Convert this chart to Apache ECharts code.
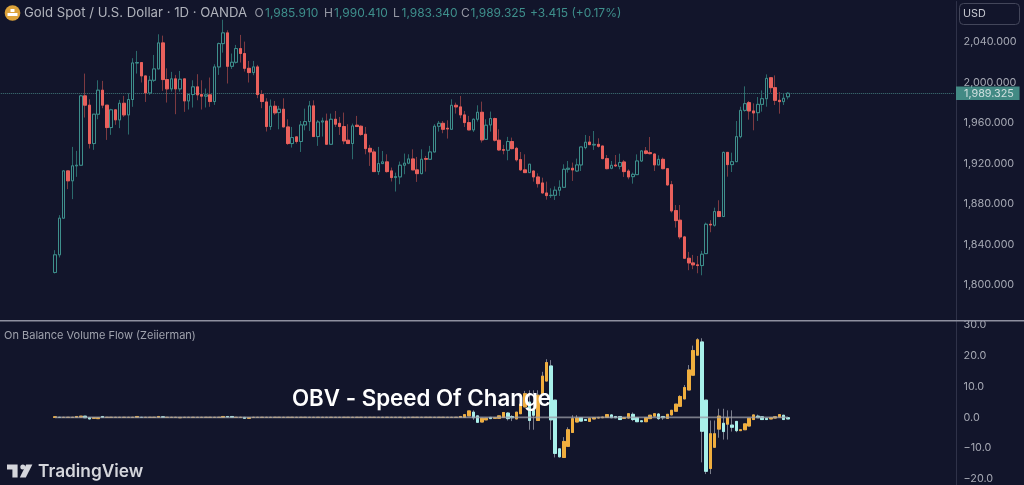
<!DOCTYPE html>
<html><head><meta charset="utf-8">
<style>html,body{margin:0;padding:0;background:#12152b;overflow:hidden}#c{width:1024px;height:485px}</style>
<script src="https://cdn.jsdelivr.net/npm/echarts@6/dist/echarts.min.js"></script>
</head><body><div id="c"></div>
<script>
const opens=[1812.4,1829.8,1866,1912.7,1902.9,1917.7,1918.3,1986.8,1977.6,1939.7,
1968.7,1992.4,1977.6,1955.5,1973,1963.1,1979.5,1968,1983.2,2019.3,
2019.7,2006.5,1989.7,2002.2,2013.4,2039.1,2002.9,1993.7,2003.6,1993.7,
2003.6,1981.8,1988.1,1995.7,1988.1,1986.5,1987.8,1981.2,2015.4,2038.4,
2049,2016,2020,2033.5,2028.6,2014,2009.8,2015.4,1988.1,1980.8,
1956.5,1976.6,1970.3,1973.6,1956.1,1939.7,1946.3,1941.7,1958.1,1961.4,
1976.9,1946.6,1961,1962,1939,1963.7,1959.7,1956.5,1943,1939.7,
1957.8,1956.8,1948.9,1935,1931.4,1912,1919.9,1921.6,1912.7,1906.1,
1906.8,1918.3,1920.3,1924.5,1913.7,1910,1924.9,1924.2,1931.4,1956.8,
1959.7,1954.8,1953.8,1977.5,1975.9,1968,1960.4,1953.2,1963.7,1970.6,
1943.9,1958.1,1964.4,1943,1933.7,1933.1,1941.7,1935,1923.9,1913.7,
1911,1912.6,1906.7,1900.8,1890.9,1888.3,1888.6,1893.6,1896.5,1914.3,
1915.3,1912.6,1918.6,1935.7,1941.2,1938.3,1938.9,1937.3,1924.8,1915.3,
1918.5,1917.2,1921.5,1912.6,1907,1909,1922.5,1932.4,1930.7,1929.4,
1918.6,1924.1,1914.9,1899.1,1873.5,1864,1847.5,1826.4,1821.8,1819.9,
1819.2,1831,1860,1859,1872.5,1867.6,1931,1918.9,1921.8,1946.5,
1972.5,1980.1,1971.9,1970.2,1978.4,1984,2004.7,1994.9,1982.4,1981.1,
1985.91];
const highs=[1834.4,1869,1913.4,1913,1936.4,1932.5,1987.8,2008.8,1983.5,1968.7,
2002.2,2001.6,1977.6,1974,1973,1982.8,1986.8,1989.4,2024,2031.2,
2019.7,2006.5,2006.5,2027.2,2047.6,2046.3,2014,2010.5,2007.5,2011.4,
2003.6,1989,2002.2,2008.2,2002.2,1994,2004.9,2018,2039.4,2062,
2051.6,2028.6,2037.1,2047,2040.4,2021.3,2021.3,2017.4,1992.4,1984.5,
1983.2,1981.8,1976.9,1984.4,1963.7,1956.1,1946.3,1962,1974.2,1981.8,
1982.4,1963,1965.3,1969.3,1969.3,1971.9,1966,1970.3,1958.8,1959.4,
1967,1957.8,1956.1,1938.4,1934,1936.4,1932.4,1929.1,1916,1911,
1921.9,1929.8,1929.1,1934,1926.5,1934,1927.5,1937.4,1958.8,1962,
1962,1962.7,1983.4,1980.1,1986.7,1971.9,1967,1964.4,1977.5,1981.1,
1963.7,1971.3,1965.3,1953.8,1938.4,1946.3,1945.6,1936.4,1931.4,1929.1,
1919.3,1913.3,1910.3,1906,1902.1,1895.5,1897.5,1903.4,1919.2,1922.5,
1920.9,1924.8,1936.3,1948.2,1947.2,1952.1,1944.9,1937.3,1928.4,1922.5,
1928.4,1929.7,1923.5,1914.3,1911,1929,1933,1936.3,1946.2,1929.7,
1928.1,1925.8,1915.3,1902.8,1879,1879,1848.5,1832.7,1829.7,1828.7,
1833.7,1861.6,1864,1876.4,1883.7,1931.7,1931,1930.7,1962,1976.1,
1996.2,1981.7,1979.4,1985.7,1992.2,2008,2004.7,2007,1990.6,1989.6,
1990.41];
const lows=[1811.4,1827.2,1866,1894.7,1884.8,1906.8,1917.7,1965.4,1934.8,1933.5,
1963.7,1974.6,1943.3,1948.3,1958.2,1954.9,1966,1948.6,1976,2008.8,
2000,1980.8,1987.8,2000.6,2013.4,1991.7,1980.2,1991,1968.7,1991,
1971,1973.3,1975.3,1982.5,1973.3,1975.3,1976,1977.9,2007.5,2029.5,
1999,2013.4,2018.7,2019.7,2010.8,2000,2007.2,1984.5,1974.6,1951.6,
1953.2,1968,1953.8,1956.1,1938.4,1935.7,1939.7,1931.4,1952.8,1952.2,
1946.6,1937.4,1946.6,1939,1938.4,1956.1,1948.2,1939,1939.7,1924.2,
1956.1,1947.3,1929.1,1917.6,1912,1908.8,1919.9,1911,1902.2,1892.3,
1899.5,1909.4,1919.3,1913.4,1901.8,1909.4,1912,1924.2,1931.4,1951.5,
1949.9,1944.6,1953.8,1969.3,1964.7,1956.1,1952.8,1951.2,1961.4,1940.7,
1943.9,1951.5,1941.7,1932.4,1929.1,1923.2,1934,1921.9,1912.7,1911,
1911,1902.1,1896.2,1890.3,1884.3,1886,1884,1888,1896.2,1911,
1902.8,1911.6,1912.6,1934,1938.6,1933.4,1935.7,1924.2,1914.3,1914.3,
1916.6,1914.3,1906.7,1904.4,1900.1,1908.7,1921.5,1929,1929,1912.6,
1918.6,1914.3,1898.2,1871.5,1856.7,1845.2,1826.4,1814.6,1815.6,1811.6,
1809.6,1831,1852.1,1857.7,1867.6,1867.6,1907,1911.6,1921.8,1944.9,
1971.2,1963.3,1952.8,1962,1971.2,1976.1,1990,1977.8,1969.2,1977.8,
1983.34];
const closes=[1829.8,1866,1912.7,1902.9,1917.7,1918.3,1986.8,1977.6,1939.7,1968.7,
1992.4,1977.6,1955.5,1973,1963.1,1979.5,1968,1983.2,2019.3,2019.7,
2006.5,1989.7,2002.2,2013.4,2039.1,2002.9,1993.7,2003.6,1993.7,2003.2,
1981.8,1988.1,1995.7,1987.8,1986.5,1987.8,1981.2,2015.4,2038.4,2049,
2016,2020,2033.5,2028.6,2014,2009.8,2015.4,1988.1,1981.2,1956.5,
1976.6,1970,1973.6,1956.1,1939.7,1945.6,1941.7,1958.1,1961.4,1976.9,
1946.6,1961,1962,1939,1963.7,1958.8,1956.5,1942.3,1939.7,1957.1,
1956.5,1948.6,1934.7,1931.4,1912,1919.9,1921.6,1912,1906.1,1907.1,
1918.3,1920.3,1924.5,1913.7,1910,1924.2,1924.2,1931.4,1956.8,1959.7,
1953.8,1954.1,1977.5,1975.9,1968,1960.4,1953.2,1963.7,1970.6,1943.3,
1957.8,1964.4,1943,1933.4,1933.1,1941.7,1934.7,1923.6,1913.7,1911,
1919.3,1906.7,1900.1,1890.9,1888.3,1888.6,1893.6,1896.5,1914.3,1915.3,
1913.6,1918.6,1936.3,1941,1938.6,1938.9,1937,1924.8,1914.9,1918.2,
1917.6,1920.9,1912,1906.7,1909.3,1922.5,1932.4,1930,1929.7,1918.6,
1924.1,1914.9,1898.8,1873.2,1863.6,1847.5,1826.4,1821.8,1819.9,1819.2,
1830.4,1860,1859.3,1872.5,1867.6,1931,1918.9,1921.8,1946.5,1972.5,
1979.1,1971.9,1969.9,1978.4,1984,2004.1,1994.9,1982.4,1981.1,1984.4,
1989.325];
const indOpen=[0,0,0,0,0,0,0.1,0.4,-0.1,-0.3,
-0.4,0.3,0,0,0,0,0,0,0,0,
0,0,0,0,0,0.2,0,0,0,-0.1,
0,0,0,0,0,0,0,0,0,0,
0.3,0.3,0,0,0,-0.3,0,0,0,0,
0,0,0,0,0,0,0,0,0,0,
0,0,0,0,0,0,0,0,0,0,
0,0,0,0,0,0,0,0,0,0,
0,-0.1,0,0,0,0,0,0,0,0,
0,0,0,0,0,0,0.5,1.7,0.5,-1.5,
-0.8,0,-0.3,-0.3,0,1.4,0.3,-0.5,1.2,3.4,
5,2.3,-1,7.2,11.8,16.7,5.6,-10.2,-13,-9.4,
-4.9,-1.5,-0.1,-0.7,-1.3,-0.5,-0.2,-0.1,0,0.8,
0.3,0.3,-0.3,-0.2,1,-0.1,-1.1,-1.4,-0.4,0.4,
1.1,0.3,-0.3,0.8,2,3.6,6,8.9,13.7,20.2,
24.5,5.6,-16.6,-9.7,-3.8,-1.9,-2.2,-2.5,-1.3,-4.3,
-4,-2.8,-0.7,0.4,0.2,-0.3,-0.5,-0.2,0.1,0.7,
-0.1];
const indClose=[0.2,0,0,0,0,0.3,0.4,-0.1,-0.5,-0.1,
-0.1,0,0,0,0,0,0,0,0,0.3,
0,0,0,0,0.3,0,0,0,0,0,
0,0,0,0,0,0,0,0,0,0.3,
0.1,0,0,0,-0.3,-0.1,0,0,0,0,
0,0,0,0,0,0,0,0,0,0,
0,0,0,0,0,0,0,0,0,0,
0,0,0,0,0,0,0,0,0,0,
0,0,0,0,0,0,0,0,0,0,
0,0,0,0,0.3,0.9,2.1,-0.1,-1.6,-0.3,
-0.3,-0.4,-0.1,0.5,1.6,-0.4,-0.1,1.7,4.3,7.7,
-1,0.7,7.2,13.4,17.8,-0.8,-11.7,-12.8,-7.8,-4,
-0.4,-0.2,-1.2,-1,-0.3,-0.1,0,0.1,0.9,-0.1,
-0.1,-0.7,-0.1,1.2,-0.7,-1.4,-1.4,-0.1,0.7,1.2,
-0.4,-0.1,1,2.3,4.3,6.8,9.7,15.4,21.7,25.2,
-4.5,-17.5,-5.3,-5.3,0.4,-4.6,-0.1,-3.2,-4.3,-4,
-2.1,-0.3,0.8,-0.1,-0.7,-0.7,-0.1,0.2,0.9,-0.7,
-0.5];
const n=null;
const indHigh=[n,n,n,n,n,n,n,n,n,n, n,n,n,n,n,n,n,n,n,n, n,n,n,n,n,n,n,n,n,n, n,n,n,n,n,n,n,n,n,n,
n,n,n,n,n,n,n,n,n,n, n,n,n,n,n,n,n,n,n,n, n,n,n,n,n,n,n,n,n,n, n,n,n,n,n,n,n,n,n,n, n,n,n,n,n,n,n,n,n,n,
n,n,n,n,n,n,n,2.3,n,n,
n,n,n,n,n,1.7,0.7,n,n,8.6,
8.8,8.8,8.8,14.8,18.9,18.6,n,n,-6.4,-3.2,
0.7,0.7,0.1,n,n,n,n,n,n,1,
n,n,n,n,1.6,n,n,n,n,n,
1.4,n,n,n,n,7.2,10.5,17,23.3,25.7,
25.7,n,-1,-1,2.8,2.8,2.3,2.3,-1.2,n,
n,n,n,0.9,n,n,n,n,n,n,
n];
const indLow=[n,n,n,n,n,n,n,n,n,n, n,n,n,n,n,n,n,n,n,n, n,n,n,n,n,n,n,n,n,n, n,n,n,n,n,n,n,n,n,n,
n,n,n,n,n,n,n,n,n,n, n,n,n,n,n,n,n,n,n,n, n,n,n,n,n,n,n,n,n,n, n,n,n,n,n,n,n,n,n,n, n,n,n,n,n,n,n,n,n,n,
n,n,n,n,n,n,n,-0.8,n,n,
n,n,n,n,n,-1,-1.2,n,n,n,
-4,-4,n,n,n,-7.3,-13,-13,n,n,
n,n,n,n,n,n,n,n,n,n,
n,n,n,n,-1.2,n,n,n,n,n,
-0.8,-0.8,n,n,n,n,n,n,n,n,
-14.6,-18.4,-18.4,n,-6.6,-7.2,-7.2,-4.6,-4.8,n,
n,n,n,n,n,n,n,n,n,n,
n];
const zeroLine=closes.map(()=>0);
const lastPrice=1989.325;
const PAD=13;
const categories=Array.from({length:222},(_,i)=>String(i));

const BG='#12152b',TEAL='#3e8f8c',TEALW='#2b6a6c',RED='#e9605c',REDW='#7d3a41';
const ORANGE='#f0ae3e',AQUA='#a8f0ea',GREY='#7b7e8c',AX='#a6a9b4';
const fontF='Inter, sans-serif';
const price=v=>v.toLocaleString('en-US',{minimumFractionDigits:3,maximumFractionDigits:3});
const padded=a=>Array(PAD).fill('-').concat(a);

const wick=padded(closes.map((c,i)=>[opens[i],c,lows[i],highs[i]]));
const body=padded(closes.map((c,i)=>[opens[i],c,Math.min(opens[i],c),Math.max(opens[i],c)]));
const iBody=padded(indClose.map((c,i)=>[indOpen[i],c,Math.min(indOpen[i],c),Math.max(indOpen[i],c)]));
const iWick=padded(indClose.map((c,i)=>[indOpen[i],c,
  indLow[i]==null?Math.min(indOpen[i],c):indLow[i],
  indHigh[i]==null?Math.max(indOpen[i],c):indHigh[i]]));

const txt=(x,y,t,fill,size,extra)=>({type:'text',x,y,z:50,silent:true,
  style:Object.assign({text:t,fill,font:`${size}px ${fontF}`,textVerticalAlign:'middle',textBaseline:'middle'},extra||{})});

const chart=echarts.init(document.getElementById('c'),null,{renderer:'canvas'});
chart.setOption({
  animation:false,backgroundColor:BG,
  grid:[{outerBoundsMode:'none',left:-3.2,width:957.26,top:1.5,height:324},
        {outerBoundsMode:'none',left:-3.2,width:957.26,top:325,height:184.8}],
  xAxis:[{type:'category',gridIndex:0,data:categories,show:false},
         {type:'category',gridIndex:1,data:categories,show:false}],
  yAxis:[
   {type:'value',gridIndex:0,position:'right',offset:2,min:1760,max:2080,interval:40,scale:true,
    splitLine:{show:false},axisTick:{show:false},
    axisLine:{show:true,onZero:false,lineStyle:{color:'#2f3249'}},
    axisLabel:{showMinLabel:false,showMaxLabel:false,color:AX,fontFamily:fontF,fontSize:10.8,margin:7.5,formatter:price}},
   {type:'value',gridIndex:1,position:'right',offset:2,min:-30,max:30,interval:10,
    splitLine:{show:false},axisTick:{show:false},
    axisLine:{show:true,onZero:false,lineStyle:{color:'#2f3249'}},
    axisLabel:{showMinLabel:false,color:AX,fontFamily:fontF,fontSize:10.8,margin:7.5,padding:[1.5,0,0,0],
      formatter:v=>v.toFixed(1).replace('-','\u2212')}}
  ],
  series:[
   {type:'candlestick',name:'wick',xAxisIndex:0,yAxisIndex:0,barWidth:3,z:2,data:wick,silent:true,
    itemStyle:{color:'transparent',color0:'transparent',borderColor:TEALW,borderColor0:REDW,borderWidth:1}},
   {type:'candlestick',name:'body',xAxisIndex:0,yAxisIndex:0,barWidth:3,z:3,data:body,silent:true,
    itemStyle:{color:BG,color0:RED,borderColor:TEAL,borderColor0:RED,borderWidth:1},
    markLine:{silent:true,symbol:'none',animation:false,z:1,
      lineStyle:{type:'dotted',color:'#4b8f8c',width:1,opacity:.8},
      label:{show:true,position:'end',distance:2,formatter:()=>price(lastPrice),color:'#f2f4f5',fontFamily:fontF,fontSize:10.8,
        backgroundColor:'#4fa89b',width:55.5,height:13.5,lineHeight:13.5,align:'left',padding:[0,0,0,8]},
      data:[{yAxis:lastPrice}]}},
   {type:'candlestick',name:'ind wick',xAxisIndex:1,yAxisIndex:1,barWidth:3,z:2,data:iWick,silent:true,
    itemStyle:{color:'transparent',color0:'transparent',borderColor:GREY,borderColor0:GREY,borderWidth:1}},
   {type:'candlestick',name:'ind body',xAxisIndex:1,yAxisIndex:1,barWidth:3,z:3,data:iBody,silent:true,
    itemStyle:{color:ORANGE,color0:AQUA,borderColor:ORANGE,borderColor0:AQUA,borderWidth:1}},
   {type:'line',name:'zero',xAxisIndex:1,yAxisIndex:1,data:padded(zeroLine),symbol:'none',z:4,silent:true,
    lineStyle:{color:'#9c9ea8',width:1.6,opacity:.75}}
  ],
  graphic:{elements:[
   {type:'rect',z:40,silent:true,shape:{x:0,y:320,width:1024,height:1.4},style:{fill:'#8e90a0'}},
   {type:'rect',z:40,silent:true,shape:{x:959.5,y:3.5,width:60,height:21,r:4},style:{fill:BG,stroke:'#43465a',lineWidth:1}},
   txt(963,14,'USD','#c6c8d0',10.8),
   {type:'circle',z:50,silent:true,shape:{cx:12.5,cy:13,r:7.8},style:{fill:'#dca23a'}},
   {type:'rect',z:51,silent:true,shape:{x:10.5,y:9,width:4,height:3},style:{fill:'#fff'}},
   {type:'rect',z:51,silent:true,shape:{x:7.5,y:13,width:10,height:3},style:{fill:'#fff'}},
   txt(24,13.5,'Gold Spot / U.S. Dollar \u00b7 1D \u00b7 OANDA','#b0b3bc',13.2),
   txt(254.5,13.5,'O','#9598a4',12),txt(265,13.5,'1,985.910',TEAL,12),
   txt(324,13.5,'H','#9598a4',12),txt(334,13.5,'1,990.410',TEAL,12),
   txt(393,13.5,'L','#9598a4',12),txt(401.5,13.5,'1,983.340',TEAL,12),
   txt(461,13.5,'C','#9598a4',12),txt(470.5,13.5,'1,989.325',TEAL,12),
   txt(530,13.5,'+3.415 (+0.17%)',TEAL,12),
   txt(4,336,'On Balance Volume Flow (Zeiierman)','#a0a3ae',11),
   {type:'text',x:421.5,y:399,z:60,silent:true,style:{text:'OBV - Speed Of Change',fill:'#ffffff',
     font:`600 22.3px ${fontF}`,textAlign:'center',textVerticalAlign:'middle',textBaseline:'middle'}},
   {type:'polygon',z:50,silent:true,shape:{points:[[7,464.6],[17.6,464.6],[17.6,477.6],[12.4,477.6],[12.4,469.4],[7,469.4]]},style:{fill:'#d5d6dc'}},
   {type:'circle',z:50,silent:true,shape:{cx:22.8,cy:467,r:2.5},style:{fill:'#d5d6dc'}},
   {type:'polygon',z:50,silent:true,shape:{points:[[26.2,464.6],[32.4,464.6],[25.8,477.6],[19.8,477.6]]},style:{fill:'#d5d6dc'}},
   {type:'text',x:38,y:471.5,z:50,silent:true,style:{text:'TradingView',fill:'#d5d6dc',font:`600 17.3px ${fontF}`,textVerticalAlign:'middle',textBaseline:'middle'}}
  ]}
});
</script></body></html>
